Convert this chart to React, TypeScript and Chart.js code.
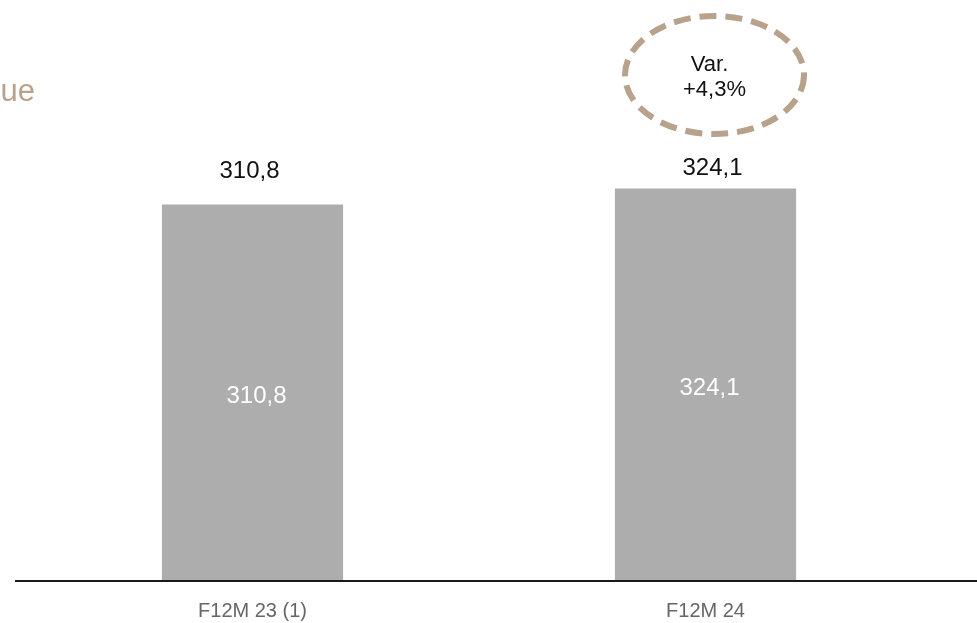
import React, { useEffect, useRef } from "react";
import { Chart, registerables } from "chart.js";

Chart.register(...registerables);

const categories = ["F12M 23 (1)", "F12M 24"];
const revenue = [310.8, 324.1];
const valueLabels = ["310,8", "324,1"];
const titleText = "Revenue";
const varianceLines = ["Var.", "+4,3%"];

const BAR = "#adadad";
const TAN = "#b8a28b";
const FONT = '"Liberation Sans", Arial, sans-serif';

const overlay = {
  id: "overlay",
  afterDatasetsDraw(chart: any) {
    const ctx = chart.ctx;
    const meta = chart.getDatasetMeta(0);
    const xs = chart.scales.x;
    const area = chart.chartArea;
    const topNudgeX = [-3, 7];
    const topNudgeY = [-33, -20];
    ctx.save();
    // title fragment
    ctx.fillStyle = TAN;
    ctx.font = `31px ${FONT}`;
    ctx.textAlign = "right";
    ctx.textBaseline = "alphabetic";
    ctx.fillText(titleText, 35, 101);

    // baseline
    ctx.strokeStyle = "#1a1a1a";
    ctx.lineWidth = 2;
    ctx.beginPath();
    ctx.moveTo(15, area.bottom + 1);
    ctx.lineTo(chart.width, area.bottom + 1);
    ctx.stroke();

    meta.data.forEach((bar: any, i: number) => {
      const x = bar.x;
      ctx.textAlign = "center";
      ctx.textBaseline = "middle";
      ctx.font = `24px ${FONT}`;
      ctx.fillStyle = "#111";
      ctx.fillText(valueLabels[i], x + topNudgeX[i], bar.y + topNudgeY[i]);
      ctx.fillStyle = "#ffffff";
      ctx.fillText(valueLabels[i], x + 4, (bar.y + bar.base) / 2 + 4);
      // category
      ctx.font = `20px ${FONT}`;
      ctx.fillStyle = "#666666";
      ctx.fillText(categories[i], xs.getPixelForValue(i), area.bottom + 31);
    });

    // variance ellipse near last bar
    const last = meta.data[meta.data.length - 1];
    const cx = last.x + 9;
    const cy = 75;
    ctx.strokeStyle = TAN;
    ctx.lineWidth = 6;
    ctx.setLineDash([17, 9]);
    ctx.beginPath();
    ctx.ellipse(cx, cy, 89.5, 59, 0, 0, Math.PI * 2);
    ctx.stroke();
    ctx.setLineDash([]);
    ctx.fillStyle = "#111";
    ctx.font = `22px ${FONT}`;
    ctx.fillText(varianceLines[0], cx - 5, cy - 10);
    ctx.fillText(varianceLines[1], cx, cy + 15);
    ctx.restore();
  },
};

export default function App() {
  const ref = useRef<HTMLCanvasElement>(null);
  useEffect(() => {
    if (!ref.current) return;
    const chart = new Chart(ref.current, {
      type: "bar",
      data: {
        labels: categories,
        datasets: [
          {
            data: revenue,
            backgroundColor: BAR,
            borderWidth: 0,
            barPercentage: 1,
            categoryPercentage: 0.4,
          },
        ],
      },
      options: {
        animation: false,
        responsive: false,
        layout: { padding: { left: 26, right: 45, top: 0, bottom: 43 } },
        plugins: { legend: { display: false }, tooltip: { enabled: false } },
        scales: {
          x: { display: false },
          y: { display: false, min: 0, max: 480 },
        },
      },
      plugins: [overlay],
    });
    return () => chart.destroy();
  }, []);
  return (
    <div style={{ position: "fixed", left: 0, top: 0, width: 977, height: 623, background: "#fff" }}>
      <canvas ref={ref} width={977} height={623} />
    </div>
  );
}
